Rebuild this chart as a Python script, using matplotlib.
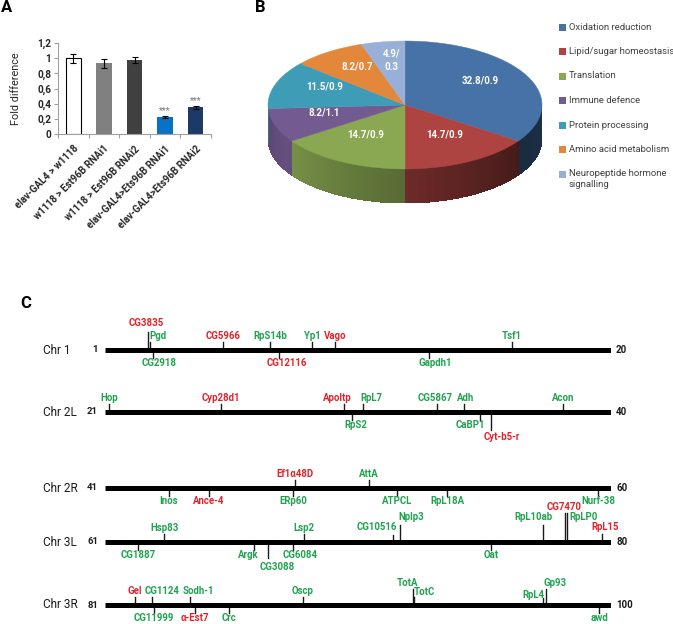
import matplotlib.pyplot as plt
import numpy as np
from matplotlib.patches import Polygon, Rectangle
from matplotlib.collections import PolyCollection

plt.rcParams['font.family'] = ['Roboto', 'DejaVu Sans']

W, H = 673, 624

# ---- panel A data
groups = ['elav-GAL4 > w1118', 'w1118 > Est96B RNAi1', 'w1118 > Est96B RNAi2',
          'elav-GAL4>Ets96B RNAi1', 'elav-GAL4>Ets96B RNAi2']
fold = [1.0, 0.93, 0.97, 0.225, 0.35]
fold_err = [0.06, 0.055, 0.04, 0.015, 0.025]
signif = ['', '', '', '***', '***']
bar_colors = ['white', '#808080', '#404040', '#0a72c4', '#1c3a66']
bar_edges = ['black', 'none', 'none', 'none', 'none']

# ---- panel B data
categories = ['Oxidation reduction', 'Lipid/sugar homeostasis', 'Translation',
              'Immune defence', 'Protein processing', 'Amino acid metabolism',
              'Neuropeptide hormone\nsignalling']
share = [32.8, 14.7, 14.7, 8.2, 11.5, 8.2, 4.9]
pie_labels = ['32.8/0.9', '14.7/0.9', '14.7/0.9', '8.2/1.1', '11.5/0.9', '8.2/0.7', '4.9/\n0.3']
pie_colors = ['#4672a8', '#ad4441', '#8aa852', '#735a91', '#3f9cb7', '#e3873a', '#98b0d8']

# ---- panel C data
chromosomes = ['Chr 1', 'Chr 2L', 'Chr 2R', 'Chr 3L', 'Chr 3R']
chrom_start = [1, 21, 41, 61, 81]
chrom_end = [20, 40, 60, 80, 100]

# (gene, position, side: 1 above / -1 below)
chr1_genes = [('CG3835', 2.61, 1), ('Pgd', 2.69, 1), ('CG2918', 2.80, -1),
              ('CG5966', 5.43, 1), ('RpS14b', 7.20, 1), ('CG12116', 7.53, -1),
              ('Yp1', 8.77, 1), ('Vago', 9.64, 1), ('Gapdh1', 13.17, -1),
              ('Tsf1', 16.28, 1)]
chr2l_genes = [('Hop', 21.15, 1), ('Cyp28d1', 25.36, 1), ('Apoltp', 29.97, 1),
               ('RpS2', 30.27, -1), ('RpL7', 30.69, 1), ('CG5867', 33.47, 1),
               ('Adh', 34.48, 1), ('CaBP1', 35.08, -1), ('Cyt-b5-r', 35.49, -1),
               ('Acon', 38.20, 1)]
chr2r_genes = [('Inos', 43.40, -1), ('Ance-4', 44.91, -1), ('ERp60', 48.06, -1),
               ('Ef1\u03b148D', 48.13, 1), ('AttA', 50.91, 1), ('ATPCL', 51.96, -1),
               ('RpL18A', 53.84, -1), ('Nurf-38', 59.51, -1)]
chr3l_genes = [('CG1887', 62.24, -1), ('Hsp83', 63.22, 1), ('Argk', 66.60, -1),
               ('CG3088', 67.12, -1), ('CG6084', 68.06, -1), ('Lsp2', 68.47, 1),
               ('CG10516', 71.81, 1), ('Nplp3', 72.08, 1), ('Oat', 75.49, -1),
               ('RpL10ab', 77.45, 1), ('CG7470', 78.27, 1), ('RpLP0', 78.35, 1),
               ('RpL15', 79.66, 1)]
chr3r_genes = [('Gel', 82.13, 1), ('CG1124', 82.76, 1), ('CG11999', 82.84, -1),
               ('Sodh-1', 84.19, 1), ('\u03b1-Est7', 84.38, -1), ('Crc', 85.66, -1),
               ('Oscp', 88.43, 1), ('TotA', 92.57, 1), ('TotC', 92.61, 1),
               ('RpL4', 97.45, 1), ('Gp93', 97.56, 1), ('awd', 99.55, -1)]
red_genes = ['CG3835', 'CG5966', 'Vago', 'CG12116', 'Cyp28d1', 'Apoltp', 'Cyt-b5-r',
             'Ef1\u03b148D', 'Ance-4', 'CG7470', 'RpL15', 'Gel', '\u03b1-Est7']

# label layout: tick length px, label offset px, label x shift px
tweak = {
    'CG3835': (18, 27, -2), 'Pgd': (8, 14, 8), 'CG2918': (8, 13, 6),
    'CG12116': (8, 13, 8), 'Gapdh1': (8, 13, 6),
    'Apoltp': (8, 14, -7), 'RpL7': (8, 14, 8), 'RpS2': (8, 13, 4),
    'CG5867': (8, 14, -2), 'Adh': (8, 14, 2), 'CaBP1': (8, 13, -10),
    'Cyt-b5-r': (18, 25, 11),
    'Argk': (8, 13, -6), 'CG3088': (16, 25, 9), 'CG6084': (8, 13, 7),
    'CG10516': (7, 15, -16), 'Nplp3': (17, 25, 11), 'RpL10ab': (17, 25, -10),
    'CG7470': (29, 35, -1), 'RpLP0': (29, 25, 16), 'RpL15': (8, 15, 3),
    'CG1124': (8, 14, 10), 'Sodh-1': (8, 14, 8), 'TotA': (16, 22, -6),
    'TotC': (8, 13, 10), 'RpL4': (7, 10, -10), 'Gp93': (16, 22, 9),
}

RED = '#e5222b'
GREEN = '#1fa34f'


def fx(px):
    return px / W


def fy(py):
    return 1 - py / H


fig = plt.figure(figsize=(W / 100, H / 100), dpi=100)

# ---------------- A: bar chart
axA = fig.add_axes([fx(58), fy(134), (211 - 58) / W, (134 - 43) / H])
x = np.arange(len(groups))
axA.bar(x, fold, width=0.5, color=bar_colors, edgecolor=bar_edges, linewidth=0.8,
        yerr=fold_err, capsize=2.2,
        error_kw=dict(elinewidth=0.8, capthick=0.8, ecolor='black'))
for xi, v, e, s in zip(x, fold, fold_err, signif):
    if s:
        axA.text(xi, v + e + 0.01, s, ha='center', va='bottom', fontsize=6.5, color='#707070')
axA.set_xlim(-0.5, len(groups) - 0.5)
axA.set_ylim(0, 1.2)
yt = np.arange(0, 1.21, 0.2)
axA.set_yticks(yt)
axA.set_yticklabels([f'{round(v, 1):g}'.replace('.', ',') for v in yt],
                    fontsize=7.2, fontweight='bold', color='#262626')
axA.set_xticks(x)
axA.set_xticklabels(groups, rotation=45, ha='right', rotation_mode='anchor',
                    fontsize=7, fontweight='bold', color='#262626')
axA.set_xticks(np.arange(-0.5, len(groups), 1.0), minor=True)
axA.tick_params(axis='x', which='major', length=0, pad=7)
axA.tick_params(axis='x', which='minor', length=3, color='#a0a0a0', width=0.8)
axA.tick_params(axis='y', length=3, color='#a0a0a0', width=0.8, pad=2)
for sp in ['top', 'right']:
    axA.spines[sp].set_visible(False)
for sp in ['left', 'bottom']:
    axA.spines[sp].set_color('#a0a0a0')
    axA.spines[sp].set_linewidth(0.8)
axA.set_ylabel('Fold difference', fontsize=7.8, color='#262626')
axA.yaxis.set_label_coords(-0.24, 0.5)

# ---------------- B: 3D-looking pie
axB = fig.add_axes([fx(255), fy(215), 300 / W, 185 / H])
axB.set_xlim(-150 / 137, 150 / 137)
axB.set_ylim(-110 / 137, 75 / 137)
axB.axis('off')
ry = 64 / 137
depth = 34 / 137
frac = np.array(share) / sum(share)
ends = 90 - 360 * np.cumsum(frac)
starts = ends + 360 * frac


def shade(th):
    th = th % 360
    return np.interp(th, [180, 210, 290, 330, 360], [0.75, 0.88, 0.55, 0.38, 0.42])


side_polys, side_cols = [], []
for i in range(len(share)):
    steps = np.arange(ends[i], starts[i], 0.5)
    for t0 in steps:
        t1 = min(t0 + 0.6, starts[i])
        tm = np.radians(t0 + 0.25)
        if np.sin(tm) >= 0:
            continue
        a0, a1 = np.radians(t0), np.radians(t1)
        p0 = (np.cos(a0), ry * np.sin(a0))
        p1 = (np.cos(a1), ry * np.sin(a1))
        side_polys.append([p0, p1, (p1[0], p1[1] - depth), (p0[0], p0[1] - depth)])
        c = np.array(plt.matplotlib.colors.to_rgb(pie_colors[i])) * shade(t0 + 0.25)
        side_cols.append(c)
axB.add_collection(PolyCollection(side_polys, facecolors=side_cols, edgecolors='none',
                                  linewidths=0, antialiased=False))
for i in range(len(share)):
    t = np.radians(np.linspace(starts[i], ends[i], 120))
    pts = np.vstack([[0, 0], np.column_stack([np.cos(t), ry * np.sin(t)])])
    axB.add_patch(Polygon(pts, closed=True, facecolor=pie_colors[i],
                          edgecolor=pie_colors[i], linewidth=0.3))
    mid = np.radians((starts[i] + ends[i]) / 2)
    axB.text(0.62 * np.cos(mid), 0.62 * ry * np.sin(mid) + 0.04, pie_labels[i],
             ha='center', va='center', color='white', fontsize=7, fontweight='bold',
             linespacing=1.5)

# legend
for i, (cat, col) in enumerate(zip(categories, pie_colors)):
    yc = 27 + 24.5 * i
    fig.add_artist(Rectangle((fx(559), fy(yc + 3.5)), 7 / W, 7 / H, facecolor=col,
                             edgecolor='none', transform=fig.transFigure))
    if '\n' in cat:
        fig.text(fx(569), fy(yc - 5.5), cat, ha='left', va='top', fontsize=6.8,
                 color='#404040', linespacing=1.4)
    else:
        fig.text(fx(569), fy(yc), cat, ha='left', va='center', fontsize=6.8, color='#404040')

# ---------------- C: chromosome maps
rows = [chr1_genes, chr2l_genes, chr2r_genes, chr3l_genes, chr3r_genes]
row_y = [350, 412, 488, 542, 605]
x0, x1 = 105, 611
for name, s, e, genes, yc in zip(chromosomes, chrom_start, chrom_end, rows, row_y):
    ax = fig.add_axes([fx(x0), fy(yc + 40), (x1 - x0) / W, 80 / H])
    ax.set_xlim(s, e)
    ax.set_ylim(-40, 40)
    ax.axis('off')
    k = (e - s) / (x1 - x0)
    ax.plot([s, e], [0, 0], color='black', lw=3.6, solid_capstyle='butt', zorder=3)
    for g, pos, side in genes:
        tl, lo, dx = tweak.get(g, (8, 14 if side > 0 else 13, 0))
        ax.plot([pos, pos], [0, side * tl], color='#1a1a1a', lw=1.0, zorder=2)
        ax.text(pos + dx * k, side * lo, g, ha='center', va='center',
                color=RED if g in red_genes else GREEN, fontsize=6.9,
                fontweight='bold', clip_on=False)
    ax.text(s - 7 * k, 0, str(s), ha='right', va='center', fontsize=6.8,
            fontweight='bold', color='#1a1a1a', clip_on=False)
    ax.text(e + 5 * k, 0, str(e), ha='left', va='center', fontsize=7,
            fontweight='bold', color='#1a1a1a', clip_on=False)
    fig.text(fx(43), fy(yc), name, ha='left', va='center', fontsize=8.5, color='#1a1a1a')

# panel letters
fig.text(fx(1), fy(8), 'A', fontsize=12, fontweight='bold', va='center')
fig.text(fx(255), fy(7), 'B', fontsize=12, fontweight='bold', va='center')
fig.text(fx(20), fy(303), 'C', fontsize=12, fontweight='bold', va='center')

fig.savefig('out.png', dpi=100)
